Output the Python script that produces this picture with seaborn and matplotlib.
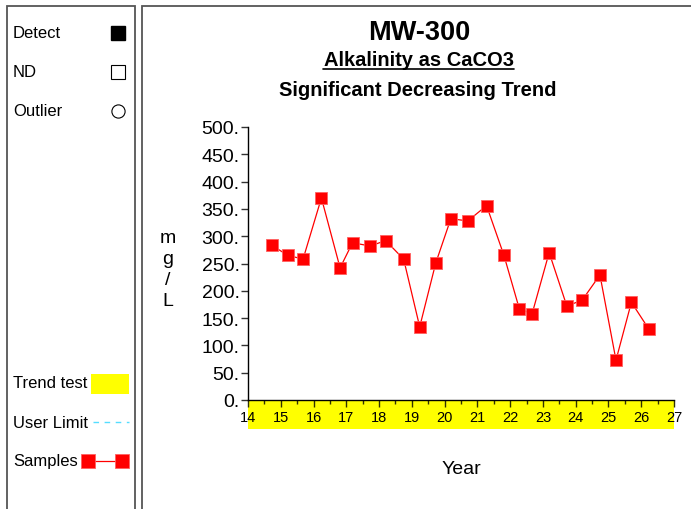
import matplotlib
matplotlib.use("Agg")
import matplotlib.pyplot as plt
import seaborn as sns
import pandas as pd
from matplotlib.patches import Rectangle
from matplotlib.lines import Line2D
from matplotlib.ticker import FuncFormatter, MultipleLocator

# ---- data ----
years = [14.74, 15.21, 15.68, 16.24, 16.81, 17.19, 17.73, 18.20, 18.75, 19.24,
         19.73, 20.19, 20.71, 21.28, 21.81, 22.28, 22.67, 23.19, 23.73, 24.20,
         24.74, 25.23, 25.70, 26.23]
values = [283, 265, 258, 370, 242, 288, 282, 292, 258, 134,
          251, 332, 328, 356, 265, 167, 158, 270, 172, 183,
          229, 73, 179, 130]
x_ticks = list(range(14, 28))
y_ticks = list(range(0, 501, 50))
title = "MW-300"
subtitle = "Alkalinity as CaCO3"
trend_text = "Significant Decreasing Trend"
legend_top = ["Detect", "ND", "Outlier"]
legend_bottom = ["Trend test", "User Limit", "Samples"]

sns.set_theme(style="white")
plt.rcParams["font.family"] = ["Liberation Sans", "DejaVu Sans"]
for k in ["text.color", "axes.labelcolor", "xtick.color", "ytick.color",
          "axes.edgecolor"]:
    plt.rcParams[k] = "black"

W, H = 691, 510
fig = plt.figure(figsize=(W / 100, H / 100), dpi=100)
fig.patch.set_facecolor("white")

def fx(x):
    return x / W

def fy(y):
    return 1 - y / H

# axes: x 248..674, y 128..401
ax = fig.add_axes([fx(248), fy(401), (674 - 248) / W, (401 - 128) / H])
ax.set_facecolor("white")

df = pd.DataFrame({"Year": years, "Value": values})
sns.lineplot(data=df, x="Year", y="Value", ax=ax, color="red", linewidth=0.9,
             marker="s", markersize=8, markeredgecolor="#ff6060",
             markeredgewidth=0.6, markerfacecolor="red",
             estimator=None, sort=False)

ax.set_xlim(14, 27)
ax.set_ylim(0, 500)
ax.set_xticks(x_ticks)
ax.xaxis.set_minor_locator(MultipleLocator(0.5))
ax.set_yticks(y_ticks)
ax.yaxis.set_major_formatter(FuncFormatter(lambda v, p: f"{v:.0f}."))
ax.set_xlabel("")
ax.set_ylabel("")
for s in ["top", "right"]:
    ax.spines[s].set_visible(False)
for s in ["left", "bottom"]:
    ax.spines[s].set_color("black")
    ax.spines[s].set_linewidth(1.0)
ax.tick_params(axis="x", which="major", direction="out", length=5, width=1,
               color="#333300", labelcolor="black", labelsize=10.5, pad=2,
               bottom=True)
ax.tick_params(axis="x", which="minor", direction="out", length=3, width=1,
               color="#333300", bottom=True)
ax.tick_params(axis="y", which="major", direction="out", length=5, width=1,
               color="#333333", labelcolor="black", labelsize=14, pad=1,
               left=True)
ax.grid(False)

# yellow trend band under x axis
band = Rectangle((0, -29 / 273), 1, 29 / 273, transform=ax.transAxes,
                 facecolor="yellow", edgecolor="none", clip_on=False, zorder=-1)
ax.add_patch(band)

# y label stacked
fig.text(fx(168), fy(270), "m\ng\n/\nL", ha="center", va="center",
         fontsize=14, linespacing=1.3)
fig.text(fx(461.5), fy(470), "Year", ha="center", va="center", fontsize=14)

# titles
fig.text(fx(419), fy(33), title, ha="center", va="center", fontsize=19.5,
         fontweight="bold")
fig.text(fx(418.5), fy(61), subtitle, ha="center", va="center",
         fontsize=14.5, fontweight="bold")
fig.add_artist(Line2D([fx(323), fx(514)], [fy(70), fy(70)], color="black",
                      linewidth=1.2))
fig.text(fx(418), fy(91), trend_text, ha="center", va="center", fontsize=14.5,
         fontweight="bold")

# panel borders
fig.add_artist(Rectangle((fx(7), fy(520)), (135 - 7) / W, (520 - 7) / H,
                         transform=fig.transFigure, fill=False,
                         edgecolor="#555555", linewidth=1.3))
fig.add_artist(Rectangle((fx(142), fy(520)), (720 - 142) / W, (520 - 7) / H,
                         transform=fig.transFigure, fill=False,
                         edgecolor="#555555", linewidth=1.3))

# legend panel text
lfs = 12
for label, yy in zip(legend_top, [34, 73, 112]):
    fig.text(fx(13), fy(yy), label, ha="left", va="center", fontsize=lfs)
fig.add_artist(Line2D([fx(118)], [fy(34)], marker="s", markersize=9.5,
                      color="black", linestyle="none"))
fig.add_artist(Line2D([fx(118)], [fy(73)], marker="s", markersize=9.5,
                      markerfacecolor="white", markeredgecolor="black",
                      markeredgewidth=0.8, linestyle="none"))
fig.add_artist(Line2D([fx(118)], [fy(112)], marker="o", markersize=9.5,
                      markerfacecolor="white", markeredgecolor="black",
                      markeredgewidth=0.8, linestyle="none"))

for label, yy in zip(legend_bottom, [384, 423, 462]):
    fig.text(fx(13), fy(yy), label, ha="left", va="center", fontsize=lfs)
fig.add_artist(Rectangle((fx(91), fy(395)), 38 / W, 20 / H,
                         transform=fig.transFigure, facecolor="yellow",
                         edgecolor="none"))
fig.add_artist(Line2D([fx(93), fx(129)], [fy(423), fy(423)], color="#55ddff",
                      linewidth=1.0, linestyle=(0, (4, 4))))
fig.add_artist(Line2D([fx(88), fx(122)], [fy(462), fy(462)], color="red",
                      linewidth=0.9, marker="s", markersize=10,
                      markerfacecolor="red", markeredgecolor="#ff6060",
                      markeredgewidth=0.6))

fig.savefig("out.png", dpi=100, facecolor="white")
